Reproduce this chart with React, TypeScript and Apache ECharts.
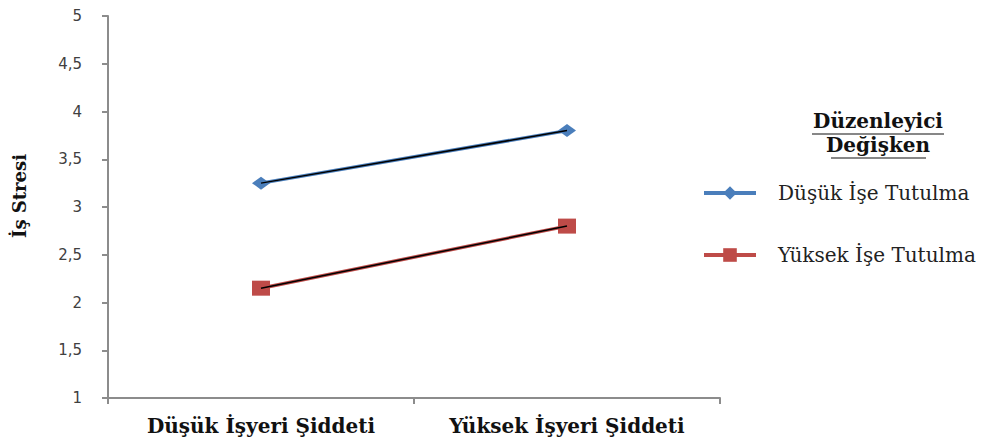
import React, { useEffect, useRef } from "react";
import * as echarts from "echarts";

const categories = ["Düşük İşyeri Şiddeti", "Yüksek İşyeri Şiddeti"];
const seriesNames = ["Düşük İşe Tutulma", "Yüksek İşe Tutulma"];
const lowEngagement = [3.25, 3.8];
const highEngagement = [2.15, 2.8];
const yTicks = [1, 1.5, 2, 2.5, 3, 3.5, 4, 4.5, 5];
const yTitle = "İş Stresi";
const legendTitle = ["Düzenleyici", "Değişken"];

export default function App() {
  const ref = useRef<HTMLDivElement>(null);
  useEffect(() => {
    if (!ref.current) return;
    const chart = echarts.init(ref.current, null, { renderer: "svg" });
    const serif = "'DejaVu Serif', 'Liberation Serif', serif";
    const sans = "'DejaVu Sans', 'Liberation Sans', sans-serif";
    const blue = "#4a7ebb";
    const red = "#be4b48";
    chart.setOption({
      animation: false,
      backgroundColor: "#ffffff",
      grid: { left: 108, right: 266, top: 16, bottom: 43, containLabel: false },
      xAxis: {
        type: "category",
        data: categories,
        boundaryGap: true,
        axisLine: { lineStyle: { color: "#8c8c8c", width: 2 } },
        axisTick: { show: true, length: 6, lineStyle: { color: "#8c8c8c", width: 2 } },
        axisLabel: {
          margin: 18,
          fontFamily: serif,
          fontWeight: "bold",
          fontSize: 20,
          color: "#111111",
        },
      },
      yAxis: {
        type: "value",
        min: yTicks[0],
        max: yTicks[yTicks.length - 1],
        interval: 0.5,
        splitLine: { show: false },
        axisLine: { show: true, lineStyle: { color: "#8c8c8c", width: 2 } },
        axisTick: { show: true, length: 6, lineStyle: { color: "#8c8c8c", width: 2 } },
        axisLabel: {
          margin: 26,
          fontFamily: sans,
          fontSize: 15,
          color: "#404040",
          formatter: (v: number) => String(v).replace(".", ","),
        },
      },
      legend: {
        orient: "vertical",
        left: 697,
        top: 178,
        itemGap: 42,
        itemWidth: 52,
        itemHeight: 17,
        data: seriesNames,
        lineStyle: { width: 4 },
        textStyle: {
          fontFamily: serif,
          fontSize: 20,
          color: "#222222",
          padding: [0, 0, 14, 17],
        },
      },
      graphic: [
        {
          type: "text",
          x: 19,
          y: 196,
          rotation: Math.PI / 2,
          style: {
            text: yTitle,
            font: `bold 18px ${serif}`,
            fill: "#111111",
            align: "center",
            verticalAlign: "middle",
          },
        },
        {
          type: "text",
          x: 878,
          y: 111,
          style: {
            text: legendTitle[0],
            font: `bold 20px ${serif}`,
            fill: "#111111",
            align: "center",
            verticalAlign: "top",
          },
        },
        {
          type: "text",
          x: 878,
          y: 135,
          style: {
            text: legendTitle[1],
            font: `bold 20px ${serif}`,
            fill: "#111111",
            align: "center",
            verticalAlign: "top",
          },
        },
        { type: "line", shape: { x1: 812, y1: 134, x2: 944, y2: 134 }, style: { stroke: "#111111", lineWidth: 1.2 } },
        { type: "line", shape: { x1: 831, y1: 158, x2: 926, y2: 158 }, style: { stroke: "#111111", lineWidth: 1.2 } },
      ],
      series: [
        {
          name: seriesNames[0],
          type: "line",
          data: lowEngagement,
          symbol: "diamond",
          symbolSize: [18, 13],
          itemStyle: { color: blue },
          lineStyle: { color: blue, width: 3.5 },
          z: 2,
        },
        {
          name: seriesNames[1],
          type: "line",
          data: highEngagement,
          symbol: "rect",
          symbolSize: [18, 15],
          itemStyle: { color: red },
          lineStyle: { color: red, width: 3.5 },
          z: 2,
        },
        {
          name: "blackLow",
          type: "line",
          data: lowEngagement,
          symbol: "none",
          lineStyle: { color: "#000000", width: 1.5 },
          z: 5,
          silent: true,
        },
        {
          name: "blackHigh",
          type: "line",
          data: highEngagement,
          symbol: "none",
          lineStyle: { color: "#000000", width: 1.5 },
          z: 5,
          silent: true,
        },
      ],
    });
    return () => chart.dispose();
  }, []);
  return (
    <div
      ref={ref}
      style={{ position: "fixed", left: 0, top: 0, width: 986, height: 441 }}
    />
  );
}
